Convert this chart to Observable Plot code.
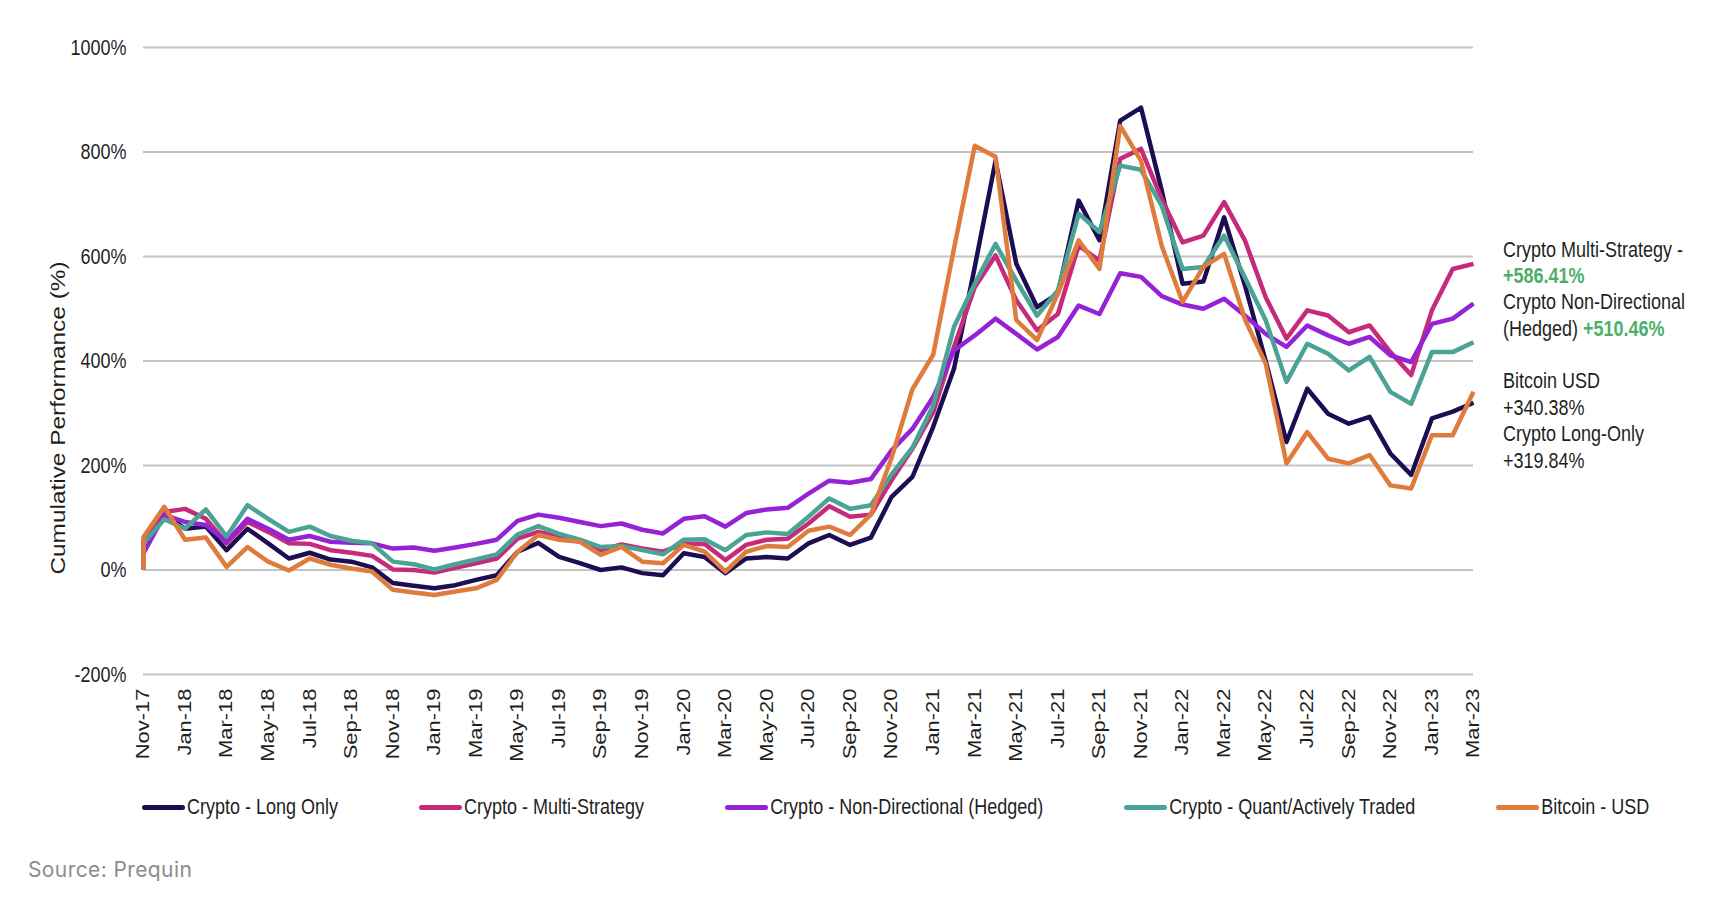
<!DOCTYPE html>
<html>
<head>
<meta charset="utf-8">
<script src="https://cdn.jsdelivr.net/npm/d3@7"></script>
<script src="https://cdn.jsdelivr.net/npm/@observablehq/plot@0.6"></script>
<style>
  html, body { margin: 0; padding: 0; background: #ffffff; }
  #wrap { position: relative; width: 1734px; height: 906px; font-family: "Liberation Sans", Arial, sans-serif; color: #1f1f1f; }
  #chart { position: absolute; left: 0; top: 0; }
  #ytitle { position: absolute; left: 58px; top: 418px; font-size: 20px; white-space: nowrap;
            transform: translate(-50%, -50%) rotate(-90deg) scaleX(1.22); }
  #notes { position: absolute; left: 1503px; top: 237px; font-size: 18px; line-height: 21.6px;
           transform: scaleY(1.22); transform-origin: 0 0; white-space: nowrap; }
  #notes .g { color: #4caf6b; font-weight: bold; }
  #legend { position: absolute; left: 142px; top: 796px; display: flex; gap: 81px; align-items: center; }
  .item { display: flex; align-items: center; }
  .sw { width: 43px; height: 5px; border-radius: 3px; margin-right: 2px; }
  .lt { font-size: 18px; white-space: nowrap; transform: scaleY(1.22); line-height: 22px; }
  #source { position: absolute; left: 28px; top: 857px; font-family: Inter, "Open Sans", sans-serif; font-size: 21px; color: #8c8c8c; letter-spacing: 0.4px; }
</style>
</head>
<body>
<div id="wrap">
  <div id="chart"></div>
  <div id="ytitle">Cumulative Performance (%)</div>
  <div id="notes"></div>
  <div id="legend"></div>
  <div id="source">Source: Prequin</div>
</div>
<script>
// ---- data (month index 0 = Nov-17 ... 64 = Mar-23) ----
const tickLabels = ["Nov-17","Jan-18","Mar-18","May-18","Jul-18","Sep-18","Nov-18","Jan-19","Mar-19","May-19",
  "Jul-19","Sep-19","Nov-19","Jan-20","Mar-20","May-20","Jul-20","Sep-20","Nov-20","Jan-21","Mar-21","May-21",
  "Jul-21","Sep-21","Nov-21","Jan-22","Mar-22","May-22","Jul-22","Sep-22","Nov-22","Jan-23","Mar-23"];

const seriesNames = ["Crypto - Long Only", "Crypto - Multi-Strategy", "Crypto - Non-Directional (Hedged)",
  "Crypto - Quant/Actively Traded", "Bitcoin - USD"];
const seriesColors = ["#1d0e53", "#c62b7b", "#9522d5", "#4aa394", "#df7c3d"];

const longOnly = [55,108,79,83,38,79,51,22,33,20, 16,5,-25,-30,-35,-29,-19,-10,35,52,
  25,13,0,5,-6,-10,32,25,-6,22, 25,22,51,67,48,62,140,178,274,385,
  580,783,586,503,529,707,631,860,885,726, 548,552,675,545,400,245,347,299,280,293,
  223,182,290,303,320];
const multiStrategy = [55,111,117,98,51,92,73,51,50,38, 33,27,1,0,-5,4,13,22,60,73,
  64,54,38,49,41,35,50,50,19,48, 58,60,89,122,102,106,172,232,302,427,
  541,602,516,459,490,621,592,787,806,710, 627,640,704,631,522,443,497,487,455,468,
  417,373,497,576,586];
const nonDirectional = [32,105,92,86,54,98,79,58,65,54, 52,51,41,43,37,43,50,58,94,106,
  100,92,84,89,77,70,98,103,83,109, 116,119,146,171,167,174,229,270,331,420,
  449,481,452,422,446,506,490,568,561,524, 508,500,519,487,452,427,468,449,433,446,
  411,398,471,481,510];
const quant = [51,97,79,116,64,124,98,73,83,65, 56,51,16,11,1,11,20,30,68,84,
  69,58,44,46,38,30,58,59,38,67, 72,69,102,137,117,124,183,234,315,465,
  548,624,554,487,535,682,647,774,766,697, 576,580,640,560,478,360,433,414,382,408,
  341,318,417,417,436];
const bitcoin = [63,121,58,62,6,44,16,-1,22,10, 3,-3,-38,-43,-48,-41,-35,-19,35,67,
  58,54,29,44,16,13,48,35,-3,35, 46,44,75,83,67,106,215,346,412,615,
  812,791,478,440,529,631,576,850,783,620, 513,580,605,480,395,204,264,213,204,220,
  162,156,258,258,341];

const yTicks = [-200, 0, 200, 400, 600, 800, 1000];

const noteLines = [
  ["Crypto Multi-Strategy -", ""],
  ["", "+586.41%"],
  ["Crypto Non-Directional", ""],
  ["(Hedged) ", "+510.46%"],
  ["", ""],
  ["Bitcoin USD", ""],
  ["+340.38%", ""],
  ["Crypto Long-Only", ""],
  ["+319.84%", ""]
];

// ---- build table ----
const allValues = [longOnly, multiStrategy, nonDirectional, quant, bitcoin];
const rows = [];
allValues.forEach((vals, s) => {
  rows.push({series: seriesNames[s], i: 0, v: 0});
  vals.forEach((v, i) => rows.push({series: seriesNames[s], i, v}));
});

const xTicks = tickLabels.map((_, k) => k * 2);

const chart = Plot.plot({
  width: 1734,
  height: 780,
  marginLeft: 143,
  marginRight: 261,
  marginTop: 47,
  marginBottom: 106,
  style: {fontFamily: "Liberation Sans, Arial, sans-serif", fontSize: "18px", color: "#1f1f1f", background: "#ffffff"},
  x: {domain: [0, tickLabels.length * 2 - 2], ticks: xTicks, tickFormat: i => tickLabels[i / 2],
      tickRotate: -90, tickSize: 0, tickPadding: 14, label: null},
  y: {domain: [-200, 1000], ticks: yTicks, tickFormat: d => d + "%", tickSize: 0, tickPadding: 17, label: null},
  color: {domain: seriesNames, range: seriesColors},
  marks: [
    Plot.ruleY(yTicks, {stroke: "#c3c3c3", strokeWidth: 2}),
    ...seriesNames.map(name => Plot.line(rows.filter(r => r.series === name), {
      x: "i", y: "v", stroke: "series", strokeWidth: 4.5, strokeLinejoin: "round", strokeLinecap: "butt"
    }))
  ]
});
document.getElementById("chart").appendChild(chart);

// reference chart is vertically stretched: stretch tick text accordingly
const K = 1.22;
chart.querySelectorAll('[aria-label^="y-axis"] text').forEach(t => {
  t.setAttribute("transform", ((t.getAttribute("transform") || "") + ` scale(1,${K})`).trim());
});
chart.querySelectorAll('[aria-label^="x-axis"] text').forEach(t => {
  t.setAttribute("transform", ((t.getAttribute("transform") || "") + ` scale(${K},1)`).trim());
});

// notes
const notes = document.getElementById("notes");
noteLines.forEach(([plain, green]) => {
  const d = document.createElement("div");
  d.style.height = "21.6px";
  d.appendChild(document.createTextNode(plain));
  if (green) {
    const s = document.createElement("span");
    s.className = "g";
    s.textContent = green;
    d.appendChild(s);
  }
  notes.appendChild(d);
});

// legend
const legend = document.getElementById("legend");
seriesNames.forEach((name, s) => {
  const it = document.createElement("div");
  it.className = "item";
  const sw = document.createElement("div");
  sw.className = "sw";
  sw.style.background = seriesColors[s];
  const lt = document.createElement("div");
  lt.className = "lt";
  lt.textContent = name;
  it.appendChild(sw);
  it.appendChild(lt);
  legend.appendChild(it);
});
</script>
</body>
</html>
